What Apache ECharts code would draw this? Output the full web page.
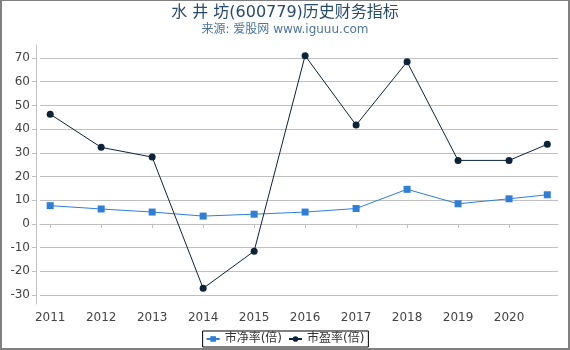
<!DOCTYPE html>
<html>
<head>
<meta charset="utf-8">
<script src="https://cdn.jsdelivr.net/npm/echarts@6/dist/echarts.min.js"></script>
<style>
html,body{margin:0;padding:0;background:#fff;}
#wrap{position:relative;width:570px;height:350px;}
#chart{position:absolute;left:0;top:0;width:570px;height:350px;}
#frame{position:absolute;left:0;top:0;width:570px;height:350px;box-sizing:border-box;border-top:1px solid #808080;border-left:2px solid #808080;border-right:2px solid #808080;border-bottom:2px solid #808080;pointer-events:none;}
</style>
</head>
<body>
<div id="wrap"><div id="chart"></div><div id="frame"></div></div>
<script>
const titleText = '水 井 坊(600779)历史财务指标';
const subtitleText = '来源: 爱股网 www.iguuu.com';
const xPositions = [2011, 2012, 2013, 2014, 2015, 2016, 2017, 2018, 2019, 2020, 2020.75];
const xTickLabels = [2011, 2012, 2013, 2014, 2015, 2016, 2017, 2018, 2019, 2020];
const yTickLabels = [-30, -20, -10, 0, 10, 20, 30, 40, 50, 60, 70];
const pbName = '市净率(倍)';
const peName = '市盈率(倍)';
const pbValues = [7.7, 6.3, 5.0, 3.3, 4.1, 5.0, 6.5, 14.6, 8.5, 10.6, 12.3];
const peValues = [46.3, 32.3, 28.2, -27.2, -11.5, 71.0, 41.7, 68.4, 26.8, 26.8, 33.6];

const FONT = 'DejaVu Sans, "Noto Sans CJK SC", sans-serif';
const chart = echarts.init(document.getElementById('chart'), null, {renderer: 'canvas'});
chart.setOption({
  animation: false,
  title: {
    text: titleText,
    subtext: subtitleText,
    left: 'center',
    top: 0,
    itemGap: 3,
    textStyle: {fontFamily: FONT, fontSize: 16, fontWeight: 'normal', color: '#274b6d'},
    subtextStyle: {fontFamily: FONT, fontSize: 12, color: '#4d759e'}
  },
  legend: {
    bottom: 3,
    left: 'center',
    borderColor: '#000',
    borderWidth: 1,
    borderRadius: 0,
    padding: [2, 4, 2, 3],
    itemGap: 6,
    itemWidth: 13,
    itemHeight: 7,
    textStyle: {fontFamily: FONT, fontSize: 12, color: '#333'},
    data: [pbName, peName]
  },
  grid: {left: 40, right: 12, top: 45, bottom: 46, containLabel: false},
  xAxis: {
    type: 'value',
    min: 2010.8,
    max: 2020.96,
    axisLine: {show: true, lineStyle: {color: '#c0c0c0'}},
    axisTick: {show: true, length: 4, lineStyle: {color: '#c0c0c0'}, customValues: xTickLabels},
    axisLabel: {fontFamily: FONT, fontSize: 12, color: '#444', margin: 8, customValues: xTickLabels, formatter: v => String(v)},
    splitLine: {show: false}
  },
  yAxis: {
    type: 'value',
    min: -33.8,
    max: 75.5,
    offset: 4,
    axisLine: {show: true, lineStyle: {color: '#c0c0c0'}},
    axisTick: {show: true, length: 4, lineStyle: {color: '#c0c0c0'}, customValues: yTickLabels},
    axisLabel: {fontFamily: FONT, fontSize: 12, color: '#444', margin: 6, customValues: yTickLabels},
    splitLine: {show: true, lineStyle: {color: '#c0c0c0', width: 1}}
  },
  series: [
    {
      name: pbName,
      type: 'line',
      data: xPositions.map((x, i) => [x, pbValues[i]]),
      symbol: 'rect',
      symbolSize: 7,
      itemStyle: {color: '#2f7ed8'},
      lineStyle: {color: '#2f7ed8', width: 1}
    },
    {
      name: peName,
      type: 'line',
      data: xPositions.map((x, i) => [x, peValues[i]]),
      symbol: 'circle',
      symbolSize: 7,
      itemStyle: {color: '#0d233a'},
      lineStyle: {color: '#0d233a', width: 1}
    }
  ]
});
</script>
</body>
</html>
